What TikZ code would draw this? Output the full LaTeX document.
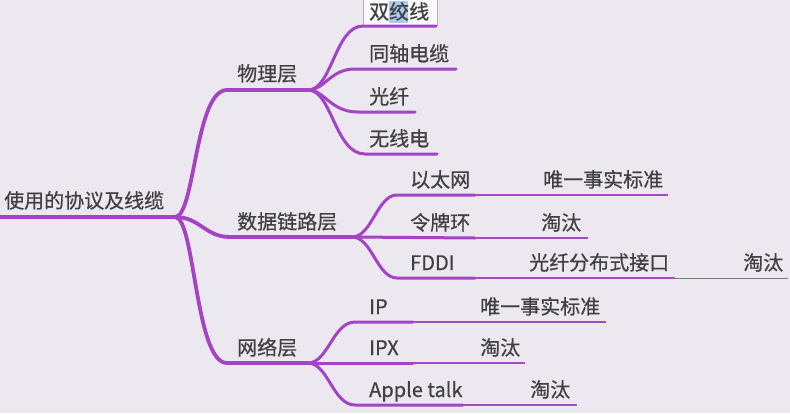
\documentclass[tikz,border=0pt]{standalone}
\usepackage{fontspec}
\setmainfont[FakeBold=0.6]{Noto Sans CJK SC}
\definecolor{bg}{HTML}{ECE8F0}
\definecolor{pur}{HTML}{A443C6}
\definecolor{pur2}{HTML}{9E4CC0}
\definecolor{txt}{HTML}{404040}
\definecolor{gline}{HTML}{7A7A7A}
\definecolor{selb}{HTML}{A9CBEE}
\tikzset{
 lbl/.style={anchor=base west, inner sep=0pt, text=txt, font=\fontsize{20}{20}\selectfont},
 b1/.style={draw=pur, line width=3.8pt, line cap=round},
 b2/.style={draw=pur, line width=3pt, line cap=round},
 b3/.style={draw=pur2, line width=2pt},
 b4/.style={draw=gline, line width=1pt},
}
\begin{document}
\begin{tikzpicture}[x=1pt,y=-1pt]
\fill[bg] (0,0) rectangle (790,413);
\useasboundingbox (0,0) rectangle (790,413);

% editing box around 双绞线
\draw[draw=black!30, fill=white!70!bg, line width=0.6pt] (363,-1) rectangle (437,25);
\fill[selb] (389,1) rectangle (408,23);

% junction coordinates
\coordinate (r0) at (0,217);
\coordinate (rj) at (175,217);
\coordinate (p0) at (227,90);  \coordinate (pj) at (308,90);
\coordinate (d0) at (230,237); \coordinate (dj) at (352,237);
\coordinate (n0) at (227,363); \coordinate (nj) at (308,363);

% root
\draw[b1] (r0) -- (rj);
\draw[b1] (rj) .. controls (195,217) and (195,90) .. (p0) -- (pj);
\draw[b1] (rj) .. controls (200,217) and (205,237) .. (d0) -- (dj);
\draw[b1] (rj) .. controls (195,217) and (195,363) .. (n0) -- (nj);

% physical layer children
\coordinate (a1) at (363,26);  \coordinate (a1e) at (436,26);
\coordinate (a2) at (355,69);  \coordinate (a2e) at (456,69);
\coordinate (a3) at (358,112); \coordinate (a3e) at (415,112);
\coordinate (a4) at (365,154); \coordinate (a4e) at (437,154);
\draw[b2] (pj) .. controls (332,90) and (335,26) .. (a1) -- (a1e);
\draw[b2] (pj) .. controls (325,90) and (330,69) .. (a2) -- (a2e);
\draw[b2] (pj) .. controls (325,90) and (330,112) .. (a3) -- (a3e);
\draw[b2] (pj) .. controls (332,90) and (335,154) .. (a4) -- (a4e);

% data link children
\coordinate (e1) at (397,195); \coordinate (e1m) at (475,195); \coordinate (e1e) at (668,195);
\coordinate (e2m) at (475,238); \coordinate (e2e) at (588,238);
\coordinate (e3) at (397,278); \coordinate (e3m) at (475,278); \coordinate (e3n) at (675,278); \coordinate (e3e) at (788,278);
\draw[b2] (dj) .. controls (372,237) and (377,195) .. (e1) -- (e1m);
\draw[b3] (e1m) -- (e1e);
\draw[b2] (dj) -- (e2m);
\draw[b3] (e2m) -- (e2e);
\draw[b2] (dj) .. controls (372,237) and (377,278) .. (e3) -- (e3m);
\draw[b3] (e3m) -- (e3n);
\draw[b4] (e3n) -- (e3e);

% network children
\coordinate (f1) at (355,322); \coordinate (f1m) at (413,322); \coordinate (f1e) at (606,322);
\coordinate (f2m) at (413,363); \coordinate (f2e) at (525,363);
\coordinate (f3) at (355,405); \coordinate (f3m) at (463,405); \coordinate (f3e) at (577,405);
\draw[b2] (nj) .. controls (328,363) and (333,322) .. (f1) -- (f1m);
\draw[b3] (f1m) -- (f1e);
\draw[b2] (nj) -- (f2m);
\draw[b3] (f2m) -- (f2e);
\draw[b2] (nj) .. controls (328,363) and (333,405) .. (f3) -- (f3m);
\draw[b3] (f3m) -- (f3e);

% labels
\node[lbl] (root) at (4,208) {使用的协议及线缆};
\node[lbl] (phy) at (237,81) {物理层};
\node[lbl] (dl) at (237,229) {数据链路层};
\node[lbl] (net) at (237,355) {网络层};

\node[lbl] (t1) at (369,19) {双绞线};
\node[lbl] (t2) at (369,61) {同轴电缆};
\node[lbl] (t3) at (369,104) {光纤};
\node[lbl] (t4) at (369,146) {无线电};

\node[lbl] (eth) at (410,187) {以太网};
\node[lbl] (eths) at (543,187) {唯一事实标准};
\node[lbl] (tr) at (410,230) {令牌环};
\node[lbl] (trs) at (541,230) {淘汰};
\node[lbl] (fd) at (410,270) {FDDI};
\node[lbl] (fdn) at (529,270) {光纤分布式接口};
\node[lbl] (fds) at (743,270) {淘汰};

\node[lbl] (ip) at (369,314) {IP};
\node[lbl] (ips) at (480,314) {唯一事实标准};
\node[lbl] (ipx) at (369,355) {IPX};
\node[lbl] (ipxs) at (480,355) {淘汰};
\node[lbl] (at) at (369,397) {Apple talk};
\node[lbl] (ats) at (530,397) {淘汰};
\end{tikzpicture}
\end{document}
